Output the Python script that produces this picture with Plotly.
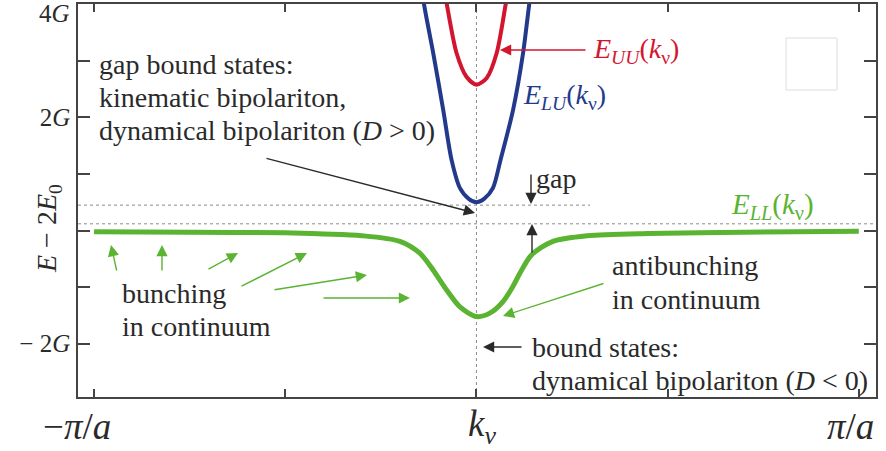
import plotly.graph_objects as go

# ---------------- data ----------------
# lower-lower branch E_LL(k)
k_LL = [-1.0, -0.75, -0.5, -0.4, -0.3, -0.2, -0.148, -0.113, -0.078, -0.043, 0.0,
        0.035, 0.07, 0.096, 0.114, 0.144, 0.2, 0.29, 0.45, 0.7, 1.0]
E_LL = [-0.02, -0.03, -0.04, -0.06, -0.09, -0.19, -0.40, -0.70, -1.05, -1.35, -1.52,
        -1.46, -1.25, -0.98, -0.75, -0.43, -0.19, -0.09, -0.05, -0.03, -0.01]
# lower-upper branch E_LU(k)
k_LU = [-0.146, -0.137, -0.113, -0.087, -0.065, -0.043, -0.02, 0.0,
        0.02, 0.043, 0.063, 0.096, 0.122, 0.138, 0.147]
E_LU = [4.45, 4.0, 3.14, 2.14, 1.25, 0.75, 0.56, 0.5,
        0.56, 0.75, 1.25, 2.14, 3.14, 4.0, 4.45]
# upper-upper branch E_UU(k)
k_UU = [-0.082, -0.078, -0.052, -0.026, 0.0, 0.027, 0.053, 0.077, 0.081]
E_UU = [4.16, 4.02, 3.14, 2.72, 2.58, 2.70, 3.14, 4.02, 4.16]

gap_top = 0.45      # upper dotted level
gap_bottom = 0.12   # lower dotted level

x_tickvals = [-1, -0.5, 0, 0.5, 1]
x_labels = ["−<i>π</i>/<i>a</i>", "<i>k</i><sub><i>ν</i></sub>", "<i>π</i>/<i>a</i>"]
y_tickvals = [4, 3, 2, 1, 0, -1, -2]
y_ticktext = ["", "", "2<i>G</i>", "", "", "", "− 2<i>G</i>"]

# ---------------- style ----------------
RED = "#d3162f"
BLUE = "#233a8c"
GREEN = "#5bb332"
DARK = "#2a2a2a"
AX = "#444444"
FONT = "'Liberation Serif', 'Times New Roman', Times, serif"

W, H = 886, 451
ML, MR, MT, MB = 78, 10, 4, 54
XR = [-1.042, 1.045]
YR = [-2.943, 4.007]


def dx(px):
    return XR[0] + (px - ML) / (W - ML - MR) * (XR[1] - XR[0])


def dy(py):
    return YR[1] - (py - MT) / (H - MT - MB) * (YR[1] - YR[0])


def px_paper(px):
    return (px - ML) / (W - ML - MR)


def py_paper(py):
    return (H - MB - py) / (H - MT - MB)


fig = go.Figure()
fig.add_trace(go.Scatter(x=k_LL, y=E_LL, mode="lines",
                         line=dict(color=GREEN, width=5, shape="spline", smoothing=0.8),
                         hoverinfo="skip"))
fig.add_trace(go.Scatter(x=k_LU, y=E_LU, mode="lines",
                         line=dict(color=BLUE, width=4, shape="spline", smoothing=0.8),
                         hoverinfo="skip"))
fig.add_trace(go.Scatter(x=k_UU, y=E_UU, mode="lines",
                         line=dict(color=RED, width=4, shape="spline", smoothing=0.8),
                         hoverinfo="skip"))

shapes = [
    dict(type="line", xref="x", yref="paper", x0=0, x1=0, y0=0, y1=1,
         line=dict(color="#8a8a8a", width=1, dash="dot"), layer="below"),
    dict(type="line", xref="paper", yref="y", x0=0, x1=px_paper(590),
         y0=gap_top, y1=gap_top, line=dict(color="#8a8a8a", width=1, dash="dot"), layer="below"),
    dict(type="line", xref="paper", yref="y", x0=0, x1=1, y0=gap_bottom, y1=gap_bottom,
         line=dict(color="#8a8a8a", width=1, dash="dot"), layer="below"),
    dict(type="rect", xref="x", yref="y", x0=dx(786), x1=dx(837), y0=dy(90), y1=dy(38),
         line=dict(color="#dddddd", width=1)),
]

ann = []


def text(px, py, s, color=DARK, size=28, anchor="left"):
    ann.append(dict(x=dx(px), y=dy(py), xref="x", yref="y", text=s, showarrow=False,
                    xanchor=anchor, yanchor="middle", xshift=-3,
                    font=dict(family=FONT, size=size, color=color)))


def arrow(tx, ty, hx, hy, color, width=1.4, size=1.6):
    ann.append(dict(x=dx(hx), y=dy(hy), ax=dx(tx), ay=dy(ty), xref="x", yref="y",
                    axref="x", ayref="y", text="", showarrow=True, arrowhead=2,
                    arrowsize=size, arrowwidth=width, arrowcolor=color, standoff=0))


text(100, 64, "gap bound states:")
text(100, 97, "kinematic bipolariton,")
text(100, 130, "dynamical bipolariton (<i>D</i> > 0)")
text(123, 293, "bunching")
text(123, 326, "in continuum")
text(613, 265, "antibunching")
text(613, 299, "in continuum")
text(533, 347, "bound states:")
text(533, 380, "dynamical bipolariton (<i>D</i> < 0)")
text(537, 178, "gap")
text(594, 50, "<i>E</i><sub><i>UU</i></sub>(<i>k</i><sub>ν</sub>)", color=RED)
text(524, 96, "<i>E</i><sub><i>LU</i></sub>(<i>k</i><sub>ν</sub>)", color=BLUE)
text(732, 206, "<i>E</i><sub><i>LL</i></sub>(<i>k</i><sub>ν</sub>)", color=GREEN, size=29)

# x tick labels (under the -1, 0, 1 ticks)
for lbl, cx, anchor in zip(x_labels, [77, 466, 850], ["center", "left", "center"]):
    ann.append(dict(x=px_paper(cx), y=py_paper(426), xref="paper", yref="paper", text=lbl,
                    showarrow=False, xanchor=anchor, yanchor="middle",
                    font=dict(family=FONT, size=37, color=DARK)))

# 4G label at the top
ann.append(dict(x=0, y=1, xref="paper", yref="paper", text="4<i>G</i>", showarrow=False,
                xanchor="right", yanchor="top", xshift=-6, yshift=6,
                font=dict(family=FONT, size=25, color=DARK)))
# y-axis title
ann.append(dict(x=px_paper(49), y=py_paper(229), xref="paper", yref="paper",
                text="<i>E</i> − 2<i>E</i><sub>0</sub>",
                showarrow=False, textangle=-90, xanchor="center", yanchor="middle",
                font=dict(family=FONT, size=28, color=DARK)))

# green bunching arrows
for t, h in [((117, 272), (111, 245)), ((162, 272), (162, 245)), ((207, 270), (238, 253)),
             ((240, 287), (307, 253)), ((273, 290), (367, 275)), ((322, 298), (410, 298)),
             ((605, 283), (503, 316))]:
    arrow(t[0], t[1], h[0], h[1], GREEN)
# black arrows
arrow(265, 158, 475, 213, DARK)
arrow(531, 173, 531, 204, DARK)
arrow(532, 254, 532, 224, DARK)
arrow(523, 347, 483, 347, DARK)
# red arrow
arrow(587, 50, 500, 50, RED)

fig.update_layout(
    width=W, height=H, margin=dict(l=ML, r=MR, t=MT, b=MB, autoexpand=False),
    paper_bgcolor="white", plot_bgcolor="white", showlegend=False,
    shapes=shapes, annotations=ann,
    xaxis=dict(range=XR, tickvals=x_tickvals, showticklabels=False, ticks="inside", ticklen=8,
               tickwidth=1.5, tickcolor=AX, showline=True, linecolor=AX, linewidth=1.5,
               mirror="ticks", showgrid=False, zeroline=False, automargin=False),
    yaxis=dict(range=YR, tickvals=y_tickvals, ticktext=y_ticktext, ticks="inside", ticklen=12,
               tickwidth=1.5, tickcolor=AX, showline=True, linecolor=AX, linewidth=1.5,
               mirror="ticks", showgrid=False, zeroline=False, automargin=False,
               ticklabelstandoff=1,
               tickfont=dict(family=FONT, size=25, color=DARK)),
)

fig.write_html("out.html", config={"displayModeBar": False},
               post_script="document.body.style.margin='0';")
